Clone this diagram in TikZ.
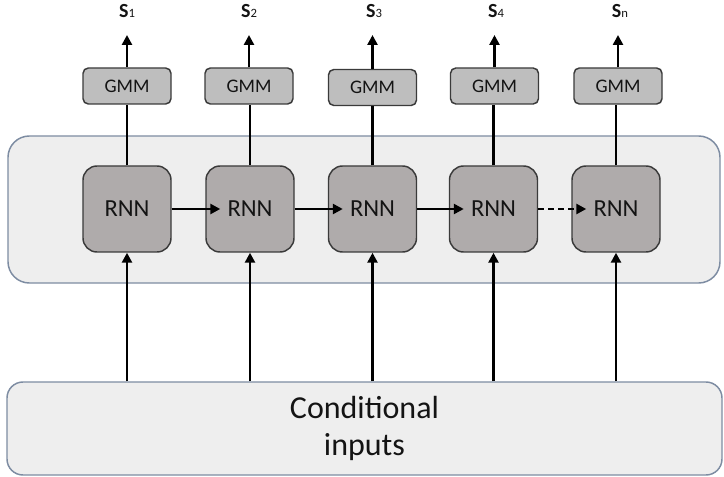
\documentclass[tikz,border=0pt]{standalone}
\usepackage{fontspec}
\setmainfont{Carlito}
\usetikzlibrary{arrows.meta}
\definecolor{panelfill}{HTML}{EEEEEE}
\definecolor{panelline}{HTML}{7D8CA2}
\definecolor{rnnfill}{HTML}{AFABAB}
\definecolor{gmmfill}{HTML}{BEBEBE}
\definecolor{boxline}{HTML}{3A3A3A}
\definecolor{txt}{HTML}{141414}
\begin{document}
\begin{tikzpicture}[x=0.75pt,y=-0.75pt,
  panel/.style={draw=panelline, fill=panelfill, line width=1.1pt, rounded corners=16pt, inner sep=0pt},
  rnnbox/.style={draw=boxline, fill=rnnfill, line width=1.1pt, rounded corners=10.5pt,
    minimum width=66pt, minimum height=64.5pt, inner sep=0pt, text=txt,
    font=\fontsize{18.4pt}{22pt}\selectfont},
  gmmbox/.style={draw=boxline, fill=gmmfill, line width=1.1pt, rounded corners=4pt,
    minimum width=66pt, minimum height=27pt, inner sep=0pt, text=txt,
    font=\fontsize{14.4pt}{17pt}\selectfont},
  slabel/.style={anchor=base, inner sep=0pt, text=txt},
  conn/.style={line width=1.9pt, black},
  arr/.style={conn, -{Triangle[length=7.5pt,width=7.5pt]}},
]
\useasboundingbox (0,0) rectangle (724,477);

% panels
\node[panel, minimum width=534pt, minimum height=110.25pt] (cont) at (364,209.5) {};
\node[panel, rounded corners=12pt, minimum width=536.25pt, minimum height=69.75pt,
  align=center, text=txt, font=\fontsize{24pt}{27.75pt}\selectfont] (inp) at (364.5,428.5)
  {Conditional\\inputs};

% RNN cells
\node[rnnbox] (r1) at (127,209) {RNN};
\node[rnnbox] (r2) at (250,209) {RNN};
\node[rnnbox] (r3) at (372.5,209) {RNN};
\node[rnnbox] (r4) at (493.5,209) {RNN};
\node[rnnbox] (r5) at (616,209) {RNN};

% GMM cells
\node[gmmbox] (g1) at (127,86) {GMM};
\node[gmmbox] (g2) at (249,86) {GMM};
\node[gmmbox] (g3) at (372.5,87.5) {GMM};
\node[gmmbox] (g4) at (494.5,86) {GMM};
\node[gmmbox] (g5) at (618,86) {GMM};

% output labels
\node[slabel] (s1) at (127,18) {\fontsize{15pt}{18pt}\selectfont\bfseries S\fontsize{9.5pt}{11pt}\selectfont\mdseries 1};
\node[slabel] (s2) at (249,18) {\fontsize{15pt}{18pt}\selectfont\bfseries S\fontsize{9.5pt}{11pt}\selectfont\mdseries 2};
\node[slabel] (s3) at (374,18) {\fontsize{15pt}{18pt}\selectfont\bfseries S\fontsize{9.5pt}{11pt}\selectfont\mdseries 3};
\node[slabel] (s4) at (496,18) {\fontsize{15pt}{18pt}\selectfont\bfseries S\fontsize{9.5pt}{11pt}\selectfont\mdseries 4};
\node[slabel] (s5) at (620,18) {\fontsize{15pt}{18pt}\selectfont\bfseries S\fontsize{9.5pt}{11pt}\selectfont\mdseries n};

\coordinate (t1) at (127,35);
\coordinate (t2) at (249,35);
\coordinate (t3) at (372.5,35);
\coordinate (t4) at (494.5,35);
\coordinate (t5) at (618,35);

% GMM -> S arrows
\foreach \i in {1,...,5}{
  \draw[arr] (g\i.north) -- (t\i);
}
% RNN -> GMM lines
\foreach \i in {1,...,5}{
  \draw[conn] (r\i.north) -- (r\i.north |- g\i.south);
}
% inputs -> RNN arrows
\foreach \i in {1,...,5}{
  \draw[arr] (r\i.south |- inp.north) -- (r\i.south);
}
% recurrent arrows
\draw[arr] (r1.east) -- ([xshift=11.25pt]r2.west);
\draw[arr] (r2.east) -- ([xshift=11.25pt]r3.west);
\draw[arr] (r3.east) -- ([xshift=11.25pt]r4.west);
\draw[arr, dash pattern=on 4.5pt off 3pt] (r4.east) -- ([xshift=11.25pt]r5.west);
\end{tikzpicture}
\end{document}
